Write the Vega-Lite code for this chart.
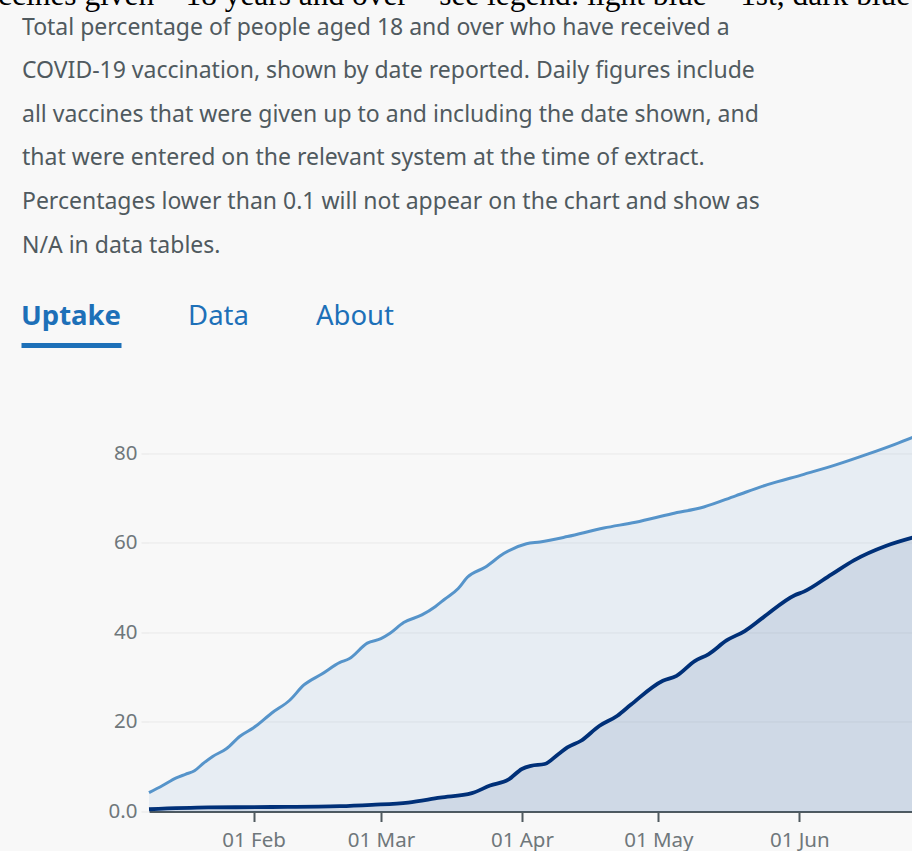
{
  "$schema": "https://vega.github.io/schema/vega-lite/v6.json",
  "background": "#f8f8f8",
  "padding": {"left": -36, "top": -20, "right": 0, "bottom": 0},
  "title": {
    "text": "Vaccines given – 18 years and over – see legend: light blue = 1st, dark blue",
    "anchor": "start",
    "frame": "bounds",
    "font": "Liberation Serif",
    "fontSize": 31.4,
    "fontWeight": "normal",
    "color": "#000000",
    "baseline": "alphabetic",
    "dx": -56,
    "offset": -20
  },
  "spacing": 63.5,
  "config": {
    "view": {"stroke": null},
    "axis": {"labelFont": "Noto Sans", "titleFont": "Noto Sans"}
  },
  "vconcat": [
    {
      "title": {
        "text": [
          "Total percentage of people aged 18 and over who have received a",
          "COVID-19 vaccination, shown by date reported. Daily figures include",
          "all vaccines that were given up to and including the date shown, and",
          "that were entered on the relevant system at the time of extract.",
          "Percentages lower than 0.1 will not appear on the chart and show as",
          "N/A in data tables."
        ],
        "anchor": "start",
        "frame": "bounds",
        "font": "Noto Sans",
        "fontSize": 23,
        "fontWeight": "normal",
        "color": "#505a5f",
        "lineHeight": 43.6,
        "baseline": "top",
        "dx": 1,
        "offset": 31.5
      },
      "spacing": 0,
      "hconcat": [
        {
          "width": 100,
          "height": 56,
          "data": {"values": [{"tab": "Uptake"}]},
          "mark": {"type": "text", "font": "Noto Sans", "fontSize": 27.5, "fontWeight": "bold", "color": "#1d70b8", "baseline": "middle"},
          "encoding": {
            "text": {"field": "tab"},
            "x": {"field": "tab", "type": "nominal", "axis": {"title": null, "labels": false, "ticks": false, "grid": false, "domainColor": "#1d70b8", "domainWidth": 5}}
          }
        },
        {
          "width": 193,
          "height": 56,
          "data": {"values": [{"tab": "Data"}]},
          "mark": {"type": "text", "font": "Noto Sans", "fontSize": 27.5, "fontWeight": "normal", "color": "#1d70b8", "baseline": "middle"},
          "encoding": {
            "text": {"field": "tab"},
            "x": {"field": "tab", "type": "nominal", "axis": null}
          }
        },
        {
          "width": 78,
          "height": 56,
          "data": {"values": [{"tab": "About"}]},
          "mark": {"type": "text", "font": "Noto Sans", "fontSize": 27.5, "fontWeight": "normal", "color": "#1d70b8", "baseline": "middle"},
          "encoding": {
            "text": {"field": "tab"},
            "x": {"field": "tab", "type": "nominal", "axis": null}
          }
        }
      ]
    },
    {
      "spacing": 0,
      "hconcat": [
        {
          "width": 1,
          "height": 1,
          "data": {"values": []},
          "mark": {"type": "text"},
          "encoding": {}
        },
        {
          "width": 764,
          "height": 403,
          "data": {"values": [
            {"d": "2021-01-09", "dose": "First", "v": 4.2},
            {"d": "2021-01-12", "dose": "First", "v": 5.8},
            {"d": "2021-01-15", "dose": "First", "v": 7.5},
            {"d": "2021-01-17", "dose": "First", "v": 8.3},
            {"d": "2021-01-19", "dose": "First", "v": 9.1},
            {"d": "2021-01-21", "dose": "First", "v": 10.8},
            {"d": "2021-01-23", "dose": "First", "v": 12.3},
            {"d": "2021-01-26", "dose": "First", "v": 14.0},
            {"d": "2021-01-29", "dose": "First", "v": 16.8},
            {"d": "2021-02-01", "dose": "First", "v": 18.7},
            {"d": "2021-02-05", "dose": "First", "v": 22.0},
            {"d": "2021-02-09", "dose": "First", "v": 24.9},
            {"d": "2021-02-12", "dose": "First", "v": 28.2},
            {"d": "2021-02-16", "dose": "First", "v": 30.7},
            {"d": "2021-02-20", "dose": "First", "v": 33.3},
            {"d": "2021-02-22", "dose": "First", "v": 34.1},
            {"d": "2021-02-26", "dose": "First", "v": 37.6},
            {"d": "2021-03-01", "dose": "First", "v": 38.6},
            {"d": "2021-03-03", "dose": "First", "v": 39.8},
            {"d": "2021-03-06", "dose": "First", "v": 42.2},
            {"d": "2021-03-10", "dose": "First", "v": 43.9},
            {"d": "2021-03-13", "dose": "First", "v": 45.8},
            {"d": "2021-03-15", "dose": "First", "v": 47.4},
            {"d": "2021-03-18", "dose": "First", "v": 49.8},
            {"d": "2021-03-20", "dose": "First", "v": 52.3},
            {"d": "2021-03-24", "dose": "First", "v": 54.6},
            {"d": "2021-03-28", "dose": "First", "v": 57.6},
            {"d": "2021-04-02", "dose": "First", "v": 59.8},
            {"d": "2021-04-05", "dose": "First", "v": 60.2},
            {"d": "2021-04-11", "dose": "First", "v": 61.4},
            {"d": "2021-04-19", "dose": "First", "v": 63.3},
            {"d": "2021-04-26", "dose": "First", "v": 64.6},
            {"d": "2021-05-04", "dose": "First", "v": 66.5},
            {"d": "2021-05-11", "dose": "First", "v": 68.0},
            {"d": "2021-05-18", "dose": "First", "v": 70.5},
            {"d": "2021-05-25", "dose": "First", "v": 73.0},
            {"d": "2021-06-02", "dose": "First", "v": 75.3},
            {"d": "2021-06-09", "dose": "First", "v": 77.4},
            {"d": "2021-06-16", "dose": "First", "v": 79.8},
            {"d": "2021-06-22", "dose": "First", "v": 82.0},
            {"d": "2021-06-26", "dose": "First", "v": 83.6},
            {"d": "2021-01-09", "dose": "Second", "v": 0.5},
            {"d": "2021-01-22", "dose": "Second", "v": 0.9},
            {"d": "2021-02-05", "dose": "Second", "v": 1.0},
            {"d": "2021-02-20", "dose": "Second", "v": 1.2},
            {"d": "2021-02-27", "dose": "Second", "v": 1.5},
            {"d": "2021-03-07", "dose": "Second", "v": 2.0},
            {"d": "2021-03-14", "dose": "Second", "v": 3.1},
            {"d": "2021-03-21", "dose": "Second", "v": 4.1},
            {"d": "2021-03-25", "dose": "Second", "v": 5.8},
            {"d": "2021-03-29", "dose": "Second", "v": 7.1},
            {"d": "2021-04-01", "dose": "Second", "v": 9.5},
            {"d": "2021-04-03", "dose": "Second", "v": 10.2},
            {"d": "2021-04-06", "dose": "Second", "v": 10.6},
            {"d": "2021-04-09", "dose": "Second", "v": 12.8},
            {"d": "2021-04-11", "dose": "Second", "v": 14.3},
            {"d": "2021-04-14", "dose": "Second", "v": 15.8},
            {"d": "2021-04-18", "dose": "Second", "v": 19.1},
            {"d": "2021-04-22", "dose": "Second", "v": 21.4},
            {"d": "2021-04-25", "dose": "Second", "v": 23.9},
            {"d": "2021-05-02", "dose": "Second", "v": 29.2},
            {"d": "2021-05-05", "dose": "Second", "v": 30.3},
            {"d": "2021-05-09", "dose": "Second", "v": 33.6},
            {"d": "2021-05-12", "dose": "Second", "v": 35.1},
            {"d": "2021-05-16", "dose": "Second", "v": 38.2},
            {"d": "2021-05-20", "dose": "Second", "v": 40.3},
            {"d": "2021-05-24", "dose": "Second", "v": 43.3},
            {"d": "2021-05-31", "dose": "Second", "v": 48.3},
            {"d": "2021-06-02", "dose": "Second", "v": 49.1},
            {"d": "2021-06-08", "dose": "Second", "v": 52.9},
            {"d": "2021-06-13", "dose": "Second", "v": 56.1},
            {"d": "2021-06-20", "dose": "Second", "v": 59.3},
            {"d": "2021-06-26", "dose": "Second", "v": 61.2}
          ]},
          "encoding": {
            "x": {
              "field": "d",
              "type": "temporal",
              "scale": {"type": "utc", "domain": [{"year": 2021, "month": 1, "date": 9, "utc": true}, {"year": 2021, "month": 6, "date": 26, "utc": true}]},
              "axis": {
                "title": null,
                "format": "%d %b",
                "values": [
                  {"year": 2021, "month": 2, "date": 1, "utc": true},
                  {"year": 2021, "month": 3, "date": 1, "utc": true},
                  {"year": 2021, "month": 4, "date": 1, "utc": true},
                  {"year": 2021, "month": 5, "date": 1, "utc": true},
                  {"year": 2021, "month": 6, "date": 1, "utc": true}
                ],
                "grid": false,
                "domainColor": "#505a5f",
                "domainWidth": 2,
                "tickColor": "#505a5f",
                "tickWidth": 2,
                "tickSize": 10,
                "labelFontSize": 20.5,
                "labelColor": "#6f777b",
                "labelPadding": 9
              }
            },
            "y": {
              "field": "v",
              "type": "quantitative",
              "scale": {"domain": [0, 90], "nice": false},
              "axis": {
                "title": null,
                "values": [0, 20, 40, 60, 80],
                "labelExpr": "datum.value == 0 ? '0.0' : datum.label",
                "domain": false,
                "tickColor": "#e6e6e6",
                "tickSize": 8,
                "gridColor": "#e9e9e9",
                "labelFontSize": 20.5,
                "labelColor": "#6f777b",
                "labelPadding": 4,
                "minExtent": 127,
                "maxExtent": 127
              }
            }
          },
          "layer": [
            {
              "transform": [{"filter": "datum.dose == 'First'"}],
              "mark": {"type": "area", "color": "#5694ca", "fillOpacity": 0.1, "interpolate": "monotone"}
            },
            {
              "transform": [{"filter": "datum.dose == 'Second'"}],
              "mark": {"type": "area", "color": "#003078", "fillOpacity": 0.1, "interpolate": "monotone"}
            },
            {
              "transform": [{"filter": "datum.dose == 'First'"}],
              "mark": {"type": "line", "color": "#5694ca", "strokeWidth": 3, "interpolate": "monotone"}
            },
            {
              "transform": [{"filter": "datum.dose == 'Second'"}],
              "mark": {"type": "line", "color": "#003078", "strokeWidth": 3.8, "interpolate": "monotone"}
            }
          ]
        }
      ]
    }
  ]
}
